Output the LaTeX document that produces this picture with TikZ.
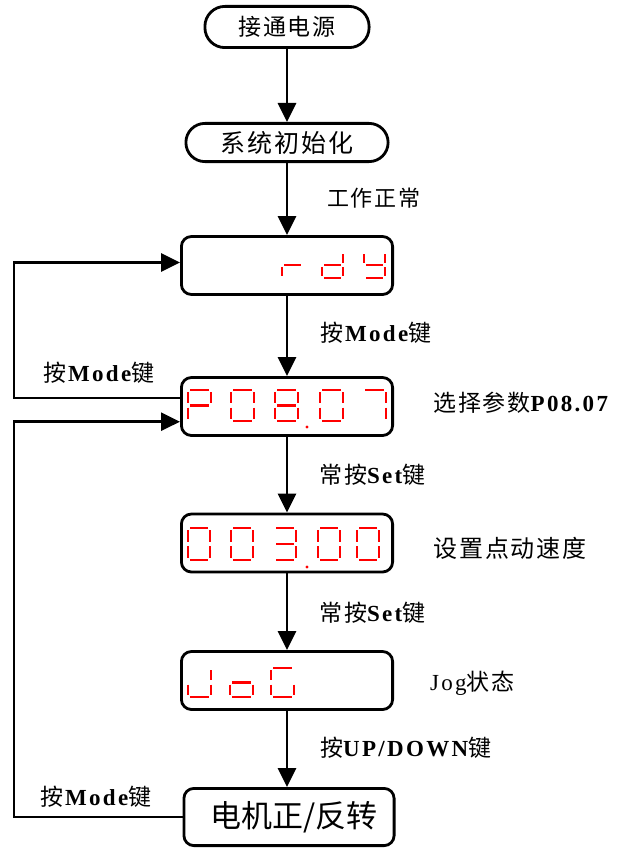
\documentclass[tikz,border=0pt]{standalone}
\usepackage{fontspec}
\setmainfont{Liberation Serif}
\newfontfamily\cjk{Noto Sans CJK SC}
\newfontfamily\cjks[LetterSpace=8]{Noto Sans CJK SC}
\newfontfamily\latb[LetterSpace=10]{Liberation Serif}
\usetikzlibrary{arrows.meta,calc}
\newcommand\fs[1]{\fontsize{#1}{#1}\selectfont}
\newcommand\SgA{\draw[seg] ({\gp},{-\dh})--({\dw-\gp},{-\dh});}
\newcommand\SgB{\draw[seg] (\dw,{-\dh+\gp})--(\dw,{-\dh/2-\gp});}
\newcommand\SgC{\draw[seg] (\dw,{-\dh/2+\gp})--(\dw,{-\gp});}
\newcommand\SgD{\draw[seg] ({\gp},0)--({\dw-\gp},0);}
\newcommand\SgE{\draw[seg] (0,{-\dh/2+\gp})--(0,{-\gp});}
\newcommand\SgF{\draw[seg] (0,{-\dh+\gp})--(0,{-\dh/2-\gp});}
\newcommand\SgG{\draw[seg] ({\gp},{-\dh/2})--({\dw-\gp},{-\dh/2});}
\newcommand\segdig[3]{\begin{scope}[shift={(#1,#2)}]#3\end{scope}}
\begin{document}
\begin{tikzpicture}[x=1pt,y=-1pt,
  box/.style={draw, line width=2.8pt, rounded corners=10pt, minimum width=211.2pt, minimum height=58pt, inner sep=0pt},
  arr/.style={line width=2.8pt, -{Triangle[length=19pt,width=18pt]}},
  lbl/.style={anchor=west, inner sep=0pt},
  seg/.style={red, line width=2.4pt},
  dp/.style={fill=red, draw=none}]
\useasboundingbox (0,0) rectangle (619,848);
\fill[white] (0,0) rectangle (619,848);
% boxes
\node[box, rounded corners=20pt, minimum width=164.2pt, minimum height=41.2pt] (b1) at (287,27) {\fs{23}\cjks 接通电源};
\node[box, rounded corners=19pt, minimum width=202.2pt, minimum height=38.2pt] (b2) at (287,142.5) {\fs{25}\cjks 系统初始化};
\node[box] (b3) at (287,265.5) {};
\node[box] (b4) at (287,406.5) {};
\node[box] (b5) at (287,543) {};
\node[box] (b6) at (287,680.5) {};
\node[box, minimum width=210.2pt, minimum height=57.2pt] (b7) at (289,817) {\hspace{10pt}\fs{31}\cjk 电机正{\fontsize{31}{31}\selectfont/}反转};
% main arrows
\draw[arr] (b1) -- (b2);
\draw[arr] (b2) -- (b3);
\draw[arr] (b3) -- (b4);
\draw[arr] (b4) -- (b5);
\draw[arr] (b5) -- (b6);
\draw[arr] (b6.south) -- (b6.south |- b7.north);
% loops
\coordinate (lA) at (14,330);
\coordinate (lB) at (14,620);
\draw[arr] ([yshift=8.5pt]b4.west) -| (lA) |- ([yshift=3pt]b3.west);
\draw[arr] (b7.west) -| (lB) |- ([yshift=-15.2pt]b4.west);
% labels
\node[lbl] (l1) at (327,198) {\fs{22}\cjks 工作正常};
\node[lbl] (l2) at (320,333) {\fs{23}\cjks 按\hspace{2pt}{\latb\bfseries Mode}键};
\node[lbl] (l3) at (43,373) {\fs{23}\cjks 按\hspace{2pt}{\latb\bfseries Mode}键};
\node[lbl] (l4) at (433,403) {\fs{23}\cjks 选择参数{\latb\bfseries P08.07}};
\node[lbl] (l5) at (319,475) {\fs{23}\cjks 常按{\latb\bfseries Set}键};
\node[lbl] (l6) at (433,548) {\fs{24}\cjks 设置点动速度};
\node[lbl] (l7) at (319,613) {\fs{23}\cjks 常按{\latb\bfseries Set}键};
\node[lbl] (l8) at (430,683) {\fs{23}{\latb Jog}\cjks 状态};
\node[lbl] (l9) at (320,748) {\fs{23}\cjks 按{\latb\bfseries UP/DOWN}键};
\node[lbl] (l10) at (40,797) {\fs{23}\cjks 按\hspace{2pt}{\latb\bfseries Mode}键};
% seven segment: rdy
\def\gp{2.2}
\def\dw{21}\def\dh{26}
\segdig{282}{278}{\SgE\SgG}
\segdig{322}{278}{\SgB\SgC\SgD\SgE\SgG}
\segdig{364}{278}{\SgB\SgC\SgD\SgF\SgG}
% P08.07
\def\dw{23}\def\dh{31}
\segdig{188}{421}{\SgA\SgB\SgE\SgF\SgG}
\segdig{231}{421}{\SgA\SgB\SgC\SgD\SgE\SgF}
\segdig{275}{421}{\SgA\SgB\SgC\SgD\SgE\SgF\SgG}
\segdig{320}{421}{\SgA\SgB\SgC\SgD\SgE\SgF}
\segdig{363}{421}{\SgA\SgB\SgC}
\fill[dp] (307,427) circle (1.7);
% 003.00
\def\dw{22}\def\dh{32}
\segdig{188}{560}{\SgA\SgB\SgC\SgD\SgE\SgF}
\segdig{231}{560}{\SgA\SgB\SgC\SgD\SgE\SgF}
\segdig{274}{560}{\SgA\SgB\SgC\SgD\SgG}
\segdig{318}{560}{\SgA\SgB\SgC\SgD\SgE\SgF}
\segdig{357}{560}{\SgA\SgB\SgC\SgD\SgE\SgF}
\fill[dp] (307,567) circle (1.7);
% JoG
\def\dw{23}\def\dh{29}
\segdig{188}{697}{\SgB\SgC\SgD\SgE}
\segdig{230}{697}{\SgC\SgD\SgE\SgG}
\segdig{271}{697}{\SgA\SgC\SgD\SgE\SgF}
\end{tikzpicture}
\end{document}
